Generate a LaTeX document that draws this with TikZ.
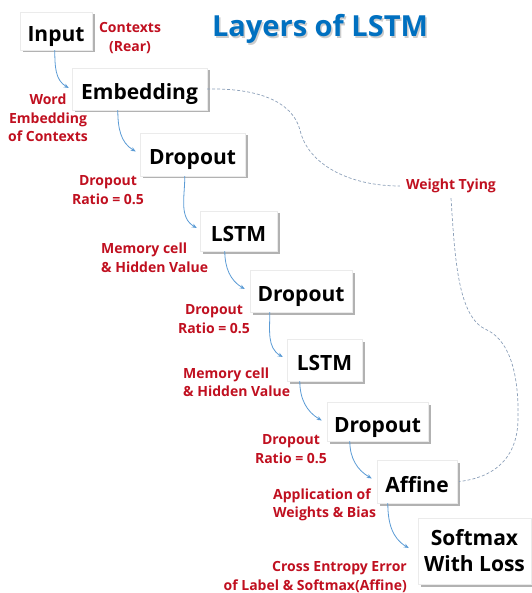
\documentclass[tikz,border=0pt]{standalone}
\usepackage{fontspec}
\setmainfont{Open Sans}
\usetikzlibrary{shadows,arrows.meta}
\definecolor{lblred}{RGB}{192,16,32}
\definecolor{ttlblue}{RGB}{0,112,192}
\definecolor{arrblue}{RGB}{91,155,213}
\definecolor{tiegray}{RGB}{140,160,185}
\tikzset{
  box/.style={fill=white, draw=black!8, drop shadow={shadow xshift=2.5pt, shadow yshift=-2.5pt, opacity=0.3, fill=black},
    font=\fontsize{21}{26}\selectfont\bfseries, inner sep=0pt, align=center},
  onebox/.style={box, text height=22pt, text depth=1pt},
  lbl/.style={text=lblred, font=\fontsize{14}{18.5}\selectfont\bfseries, inner sep=0pt},
  arr/.style={draw=arrblue, line width=0.8pt, -{Stealth[length=5pt,width=4pt]}},
  tie/.style={draw=tiegray, line width=0.7pt, dash pattern=on 3pt off 2pt}
}
\begin{document}
\begin{tikzpicture}[x=1pt,y=-1pt]
\useasboundingbox (0,0) rectangle (531,593);
% title
\node[font=\fontsize{29}{34}\selectfont\bfseries, text=black!40, opacity=0.5] at (321.5,30.5) {Layers of LSTM};
\node[font=\fontsize{29}{34}\selectfont\bfseries, text=ttlblue] (title) at (320,29) {Layers of LSTM};
% boxes
\node[onebox, minimum width=72pt, minimum height=38pt] (inp) at (56,31) {Input};
\node[onebox, minimum width=135pt, minimum height=42pt] (emb) at (139.5,89) {Embedding};
\node[onebox, minimum width=105pt, minimum height=43pt] (dr1) at (192.5,154.5) {Dropout};
\node[onebox, minimum width=77pt, minimum height=40pt] (ls1) at (238.5,231) {LSTM};
\node[onebox, minimum width=102pt, minimum height=42pt] (dr2) at (301,291) {Dropout};
\node[onebox, minimum width=75pt, minimum height=42pt] (ls2) at (324.5,360) {LSTM};
\node[onebox, minimum width=101pt, minimum height=39pt] (dr3) at (377.5,421.5) {Dropout};
\node[onebox, minimum width=80pt, minimum height=43pt] (aff) at (417,481.5) {Affine};
\node[box, minimum width=113pt, minimum height=66pt] (smx) at (474.5,551) {Softmax\\With Loss};
% labels
\node[lbl, align=center] (l0) at (130,38) {Contexts\\(Rear)};
\node[lbl, align=center] (l1) at (48,118) {Word\\Embedding\\of Contexts};
\node[lbl, align=center] (l2) at (108,190) {Dropout\\Ratio = 0.5};
\node[lbl, align=left, anchor=west] (l3) at (101,258) {Memory cell\\\& Hidden Value};
\node[lbl, align=center] (l4) at (214,319) {Dropout\\Ratio = 0.5};
\node[lbl, align=left, anchor=west] (l5) at (183,382) {Memory cell\\\& Hidden Value};
\node[lbl, align=center] (l6) at (291,449) {Dropout\\Ratio = 0.5};
\node[lbl, align=left, anchor=west] (l7) at (273,505) {Application of\\Weights \& Bias};
\node[lbl, align=right, anchor=east] (l8) at (407,577) {Cross Entropy Error\\of Label \& Softmax(Affine)};
\node[lbl] (wt) at (451,186) {Weight Tying};
% arrows
\draw[arr] ([xshift=35pt]inp.south west) to[out=-90,in=150] ([xshift=-3pt,yshift=1pt]emb.west);
\draw[arr] ([xshift=46pt]emb.south west) to[out=-90,in=150] ([xshift=-4pt,yshift=3pt]dr1.west);
\draw[arr] ([xshift=45pt]dr1.south west) to[out=-90,in=150] ([xshift=-3pt,yshift=3pt]ls1.west);
\draw[arr] ([xshift=25pt]ls1.south west) to[out=-90,in=150] ([xshift=-5pt,yshift=2pt]dr2.west);
\draw[arr] ([xshift=20pt]dr2.south west) to[out=-90,in=150] ([xshift=-4pt,yshift=3pt]ls2.west);
\draw[arr] ([xshift=13pt]ls2.south west) to[out=-90,in=150] ([xshift=-5pt,yshift=1pt]dr3.west);
\draw[arr] ([xshift=23pt]dr3.south west) to[out=-90,in=150] ([xshift=-5pt,yshift=3pt]aff.west);
\draw[arr] ([xshift=11pt]aff.south west) to[out=-90,in=150] ([xshift=-9pt,yshift=3pt]smx.west);
% weight tying
\draw[tie] (emb.east) .. controls (255,88) and (292,100) .. (300,130)
  .. controls (308,165) and (350,186) .. ([xshift=-6pt]wt.west);
\draw[tie] ([yshift=-5pt]wt.south) .. controls (455,260) and (458,318) .. (487,330)
  .. controls (512,342) and (519,380) .. (518,420)
  .. controls (517,462) and (490,478) .. ([xshift=2pt]aff.east);
\end{tikzpicture}
\end{document}
